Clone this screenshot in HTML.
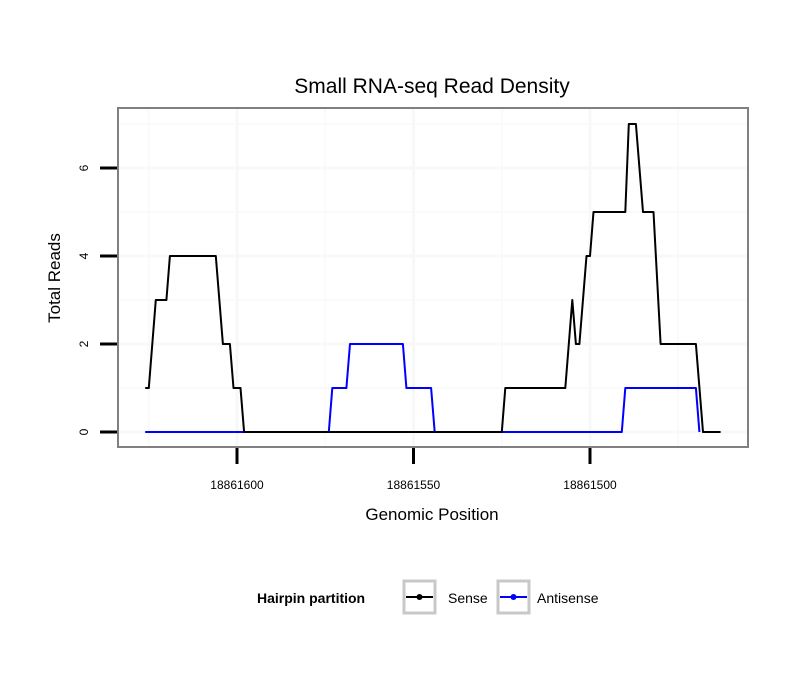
<!DOCTYPE html>
<html><head><meta charset="utf-8"><style>
body{margin:0;background:#fff;}
text{font-family:"Liberation Sans",sans-serif;}
</style></head><body>
<svg id="chart" width="810" height="690" xmlns="http://www.w3.org/2000/svg">
<rect width="810" height="690" fill="#fff"/>
<g id="grid"></g>
<g id="series"></g>
<rect x="118" y="108" width="630" height="339" fill="none" stroke="#808080" stroke-width="2"/>
<g id="axes"></g>
<text x="432" y="93" font-size="21" text-anchor="middle">Small RNA-seq Read Density</text>
<text x="432" y="520" font-size="17" text-anchor="middle">Genomic Position</text>
<text transform="translate(60,278) rotate(-90)" font-size="17" text-anchor="middle">Total Reads</text>
<g>
<text x="257" y="603" font-size="14" font-weight="bold">Hairpin partition</text>
<g>
<rect x="404" y="581" width="31" height="32" fill="#fff" stroke="#c8c8c8" stroke-width="3"/>
<line x1="406" y1="597" x2="433" y2="597" stroke="#000" stroke-width="2"/>
<circle cx="419.5" cy="597" r="3" fill="#000"/>
<text x="448" y="603" font-size="14">Sense</text>
</g>
<g>
<rect x="498" y="581" width="31" height="32" fill="#fff" stroke="#c8c8c8" stroke-width="3"/>
<line x1="500" y1="597" x2="527" y2="597" stroke="#00f" stroke-width="2"/>
<circle cx="513.5" cy="597" r="3" fill="#00f"/>
<text x="537" y="603" font-size="14">Antisense</text>
</g>
</g>
</svg>
<script>
const sensePos=[18861626,18861625,18861623,18861620,18861619,18861606,18861604,18861602,18861601,18861599,18861598,18861525,18861524,18861507,18861505,18861504,18861503,18861501,18861500,18861499,18861490,18861489,18861487,18861485,18861482,18861480,18861470,18861468,18861463];
const senseVals=[1,1,3,3,4,4,2,2,1,1,0,0,1,1,3,2,2,4,4,5,5,7,7,5,5,2,2,0,0];
const antiPos=[18861626,18861574,18861573,18861569,18861568,18861553,18861552,18861545,18861544,18861491,18861490,18861470,18861469];
const antiVals=[0,0,1,1,2,2,1,1,0,0,1,1,0];
const xTicks=[18861600,18861550,18861500];
const xMinor=[18861625,18861575,18861525,18861475];
const yTicks=[0,2,4,6];
const yMinor=[1,3,5,7];
const NS="http://www.w3.org/2000/svg";
function xs(p){return 237+(18861600-p)*3.53;}
function ys(v){return 432-v*44;}
function mk(tag,attrs,parent){const e=document.createElementNS(NS,tag);for(const k in attrs)e.setAttribute(k,attrs[k]);document.getElementById(parent).appendChild(e);return e;}
xMinor.forEach(p=>{const l=mk('line',{x1:xs(p),x2:xs(p),y1:109,y2:446,stroke:'#fafafa','stroke-width':2},'grid');

});
yMinor.forEach(v=>{const l=mk('line',{x1:119,x2:747,y1:ys(v),y2:ys(v),stroke:'#fafafa','stroke-width':2},'grid');

});
xTicks.forEach(p=>{const l=mk('line',{x1:xs(p),x2:xs(p),y1:109,y2:446,stroke:'#f8f8f8','stroke-width':3},'grid');


const t=mk('line',{x1:xs(p),x2:xs(p),y1:448,y2:464,stroke:'#000','stroke-width':3},'axes');


const tx=mk('text',{x:xs(p),y:489,'font-size':12,'text-anchor':'middle'},'axes');tx.textContent=p;

});
yTicks.forEach(v=>{const l=mk('line',{x1:119,x2:747,y1:ys(v),y2:ys(v),stroke:'#f8f8f8','stroke-width':3},'grid');


const t=mk('line',{x1:100,x2:117,y1:ys(v),y2:ys(v),stroke:'#000','stroke-width':3},'axes');


const tx=mk('text',{transform:`translate(88,${ys(v)}) rotate(-90)`,'font-size':12,'text-anchor':'middle'},'axes');tx.textContent=v;

});
function line(pos,vals,col,name){const d=pos.map((p,i)=>(i?'L':'M')+xs(p).toFixed(1)+','+ys(vals[i]).toFixed(1)).join('');
const e=mk('path',{d:d,fill:'none',stroke:col,'stroke-width':2,'stroke-linejoin':'round'},'series');

}
line(antiPos,antiVals,'#00f','antisense-line');
line(sensePos,senseVals,'#000','sense-line');
</script>
</body></html>
